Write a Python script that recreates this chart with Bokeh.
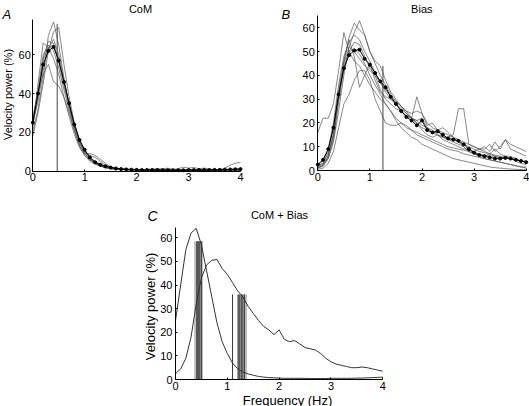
import numpy as np
from bokeh.plotting import figure
from bokeh.models import Range1d, Label, FixedTicker
from bokeh.layouts import column, row
from bokeh.embed import file_html
from bokeh.resources import INLINE

# ---------------- data ----------------
freq = np.round(np.arange(41) * 0.1, 1)  # Hz sampling grid
x_ticks = [0, 1, 2, 3, 4]
yticks_A = [0, 20, 40, 60]
yticks_BC = [0, 10, 20, 30, 40, 50, 60]

com_mean = [25, 40, 55, 62, 64, 57, 46, 35, 24, 16,
            11, 7, 4.5, 3.2, 2.4, 1.8, 1.3, 1.0, 0.8, 0.7,
            0.6, 0.5, 0.5, 0.5, 0.5, 0.5, 0.4, 0.4, 0.4, 0.4,
            0.5, 0.5, 0.5, 0.5, 0.5, 0.6, 0.6, 0.7, 0.8, 0.9, 1.0]
bias_mean = [2.5, 4.5, 9, 18, 32, 43, 48.5, 50.5, 50.8, 47,
             44.5, 41, 37.5, 35, 31, 28, 25, 22.5, 21, 19,
             21, 17, 16, 16.5, 15, 13.5, 13, 12.5, 11, 9,
             7.5, 6.5, 6, 5.5, 5, 5, 5.3, 5, 4.5, 4, 3.5]

com_1 = [20, 32, 48, 70, 77, 65, 48, 33, 22, 14, 9, 6, 4, 3, 2, 1.5, 1.2, 1, 0.8, 0.7,
         0.6, 0.5, 0.5, 0.4, 0.4, 0.4, 0.3, 0.3, 0.3, 0.3, 0.3, 0.3, 0.3, 0.3, 0.3, 0.3, 0.3, 0.3, 0.3, 0.3, 0.3]
com_2 = [18, 30, 45, 62, 72, 74, 55, 38, 25, 16, 10, 6.5, 4.5, 3, 2.2, 1.6, 1.2, 1, 0.8, 0.6,
         0.5, 0.5, 0.4, 0.4, 0.4, 0.4, 0.4, 0.4, 0.4, 0.4, 0.4, 0.4, 0.4, 0.4, 0.4, 0.5, 0.5, 0.5, 0.5, 0.5, 0.5]
com_3 = [22, 45, 66, 64, 58, 50, 38, 28, 19, 12, 8, 5, 3.5, 2.5, 1.8, 1.3, 1, 0.8, 0.6, 0.5,
         0.5, 0.4, 0.4, 0.4, 0.4, 0.3, 0.3, 0.3, 0.3, 0.3, 0.3, 0.3, 0.3, 0.3, 0.3, 0.3, 0.3, 0.3, 0.4, 0.4, 0.4]
com_4 = [28, 40, 50, 55, 46, 44, 38, 30, 21, 13, 8, 5.5, 4, 3, 2.2, 1.6, 1.2, 1, 0.8, 0.7,
         0.6, 0.6, 0.5, 0.5, 0.5, 0.5, 0.5, 0.5, 0.5, 0.5, 0.5, 0.5, 0.5, 0.5, 0.5, 0.5, 0.5, 0.5, 0.5, 0.5, 0.5]
com_5 = [24, 38, 58, 67, 66, 56, 44, 33, 23, 15, 10, 8, 7, 5, 3, 2, 1.5, 1.2, 1, 0.8,
         0.7, 0.6, 0.6, 0.5, 0.5, 0.5, 0.5, 0.5, 0.5, 0.5, 0.6, 0.6, 0.6, 0.6, 0.6, 0.7, 0.7, 0.7, 0.8, 0.8, 0.8]
com_6 = [26, 42, 60, 65, 62, 53, 42, 31, 21, 13, 9, 9, 8, 6, 4, 2, 1.5, 1.2, 1, 0.9,
         0.8, 0.7, 0.7, 0.6, 0.6, 0.6, 0.6, 0.6, 0.6, 0.6, 0.6, 0.6, 0.6, 0.6, 0.6, 0.6, 0.6, 0.6, 0.6, 0.6, 0.6]
com_7 = [25, 36, 52, 63, 68, 60, 47, 35, 24, 15, 9, 6, 4, 2.5, 1.5, 1, 0.8, 0.7, 0.6, 0.5,
         0.5, 0.5, 0.5, 0.5, 0.5, 0.5, 0.5, 0.5, 0.5, 0.5, 0.5, 0.5, 0.5, 0.5, 0.5, 0.5, 0.6, 1.5, 3, 4, 4.5]
com_8 = [27, 40, 57, 64, 65, 58, 46, 34, 24, 16, 10, 7, 5, 3.5, 2.5, 1.8, 1.3, 1, 0.8, 0.8,
         0.8, 0.8, 0.9, 1, 1.2, 1, 1.5, 0.8, 1.2, 2, 1.5, 1.8, 1.2, 1.5, 1, 0.8, 0.8, 0.8, 0.9, 1, 1.2]

bias_1 = [16, 22, 22, 28, 42, 58, 50, 46, 44, 40, 36, 33, 30, 28, 25, 22, 20, 18, 17, 16,
          15, 14, 13, 12, 11, 10, 9.5, 9, 8.5, 8, 7.5, 7, 6.5, 6, 6, 5.5, 5, 5, 4.5, 4, 4]
bias_2 = [1, 2, 5, 12, 25, 40, 52, 58, 63, 57, 50, 45, 40, 36, 32, 29, 27, 25, 24, 25,
          24, 20, 18, 17, 16, 15, 14, 13, 12, 11, 10, 9, 9, 11, 8, 10, 13, 9, 8, 7, 6]
bias_3 = [2, 3, 7, 15, 30, 46, 56, 62, 59, 57, 50, 46, 44, 38, 33, 30, 27, 25, 22, 20,
          18, 17, 16, 15, 14, 13.5, 13, 12, 11, 10, 9, 8, 7.5, 7, 6.5, 6, 5.5, 5, 4.5, 4, 3.5]
bias_4 = [0.5, 1, 3, 8, 18, 28, 32, 38, 42, 42, 38, 30, 25, 20, 19, 19, 20, 19, 17, 15,
          14, 13, 12, 11, 10, 9, 8.5, 8, 7, 6.5, 6, 5.5, 5, 4.5, 4, 3.5, 3, 2.5, 2, 1.5, 1]
bias_5 = [2, 3, 8, 18, 34, 46, 55, 48, 35, 40, 45, 38, 33, 31, 30, 28, 25, 23, 22, 31,
          24, 19, 20, 17, 18, 16, 14, 12, 10, 8, 7, 6, 5, 4.5, 4, 3.5, 3, 2.5, 2, 1.5, 1.5]
bias_6 = [1, 2, 6, 16, 32, 44, 50, 54, 53, 48, 43, 40, 37, 33, 30, 28, 26, 24, 22, 21,
          19, 18, 17, 15, 14, 14, 15, 26, 26, 11, 10, 9, 8, 7, 9, 7, 6, 6, 5, 4, 3.5]
bias_7 = [1.5, 2.5, 6, 14, 30, 45, 52, 50, 47, 44, 42, 40, 34, 30, 28, 26, 25, 23, 22, 20,
          17, 15, 14, 15, 13, 12, 11, 10, 9, 9, 8, 9, 10, 8, 12, 9, 13, 11, 10, 9, 8]
bias_8 = [1, 2, 5, 13, 29, 42, 50, 51, 49, 45, 40, 36, 32, 28, 25, 21, 18, 16, 14, 13,
          11, 10, 9, 8, 7, 6, 5, 4.5, 4, 3.5, 3, 2.5, 2, 1.5, 1.2, 1, 0.8, 0.6, 0.5, 0.4, 0.3]
bias_9 = [2.5, 4, 9, 20, 36, 48, 54, 57, 55, 50, 46, 41, 37, 34, 31, 29, 27, 24, 22, 21,
          22, 18, 16, 17, 14, 13, 12, 11, 10, 8, 7, 6.5, 6, 7, 6, 5, 6, 5, 4, 3, 2.5]

com_lines = [com_1, com_2, com_3, com_4, com_5, com_6, com_7, com_8]
bias_lines = [bias_1, bias_2, bias_3, bias_4, bias_5, bias_6, bias_7, bias_8, bias_9]

# mean-frequency markers
com_mean_freq = 0.47
com_mean_freq_top = 76
bias_mean_freq = 1.25
bias_mean_freq_top = 44

com_freqs = [0.41, 0.43, 0.45, 0.47, 0.50]
com_band = [0.36, 0.53]
com_freq_height = 58.5
bias_freqs = [1.10, 1.21, 1.24, 1.27, 1.30, 1.33]
bias_band = [1.19, 1.38]
bias_freq_height = 36

FONT = "Liberation Sans"
IND_COLOR = "#555555"


def make_panel(cl, ct, w, h, px0, px4, py0, ytop, sy, yticks, ylab_standoff):
    """Figure whose frame fills the canvas; axes drawn at x=0 / y=0."""
    sx = (px4 - px0) / 4.0
    xr = Range1d((cl - px0) / sx, (cl + w - px0) / sx)
    yr = Range1d((py0 - (ct + h)) / sy, (py0 - ct) / sy)
    p = figure(width=w, height=h, x_range=xr, y_range=yr, title=None,
               output_backend="svg", toolbar_location=None,
               min_border_left=0, min_border_right=0, min_border_top=0, min_border_bottom=0)
    p.outline_line_color = None
    p.xgrid.visible = False
    p.ygrid.visible = False
    p.background_fill_color = "white"
    p.border_fill_color = "white"
    p.xaxis.ticker = FixedTicker(ticks=x_ticks)
    p.yaxis.ticker = FixedTicker(ticks=yticks)
    p.xaxis.fixed_location = 0
    p.yaxis.fixed_location = 0
    p.xaxis.bounds = (0, 4)
    p.yaxis.bounds = (0, ytop)
    for ax in (p.xaxis[0], p.yaxis[0]):
        ax.axis_line_color = "black"
        ax.axis_line_width = 1
        ax.major_tick_in = 2
        ax.major_tick_out = 0
        ax.major_tick_line_color = "black"
        ax.minor_tick_line_color = None
        ax.major_label_text_font = FONT
        ax.major_label_text_font_size = "11px"
        ax.major_label_text_color = "black"
    p.xaxis.major_label_standoff = 2
    p.yaxis.major_label_standoff = ylab_standoff

    def to_data(px, py):
        return (px - px0) / sx, (py0 - py) / sy

    return p, to_data


def add_text(p, to_data, px, py, text, size="11px", style_="normal", align="center",
             baseline="alphabetic", angle=0.0):
    x, y = to_data(px, py)
    p.add_layout(Label(x=x, y=y, text=text, text_font=FONT, text_font_size=size,
                       text_font_style=style_, text_align=align,
                       text_baseline=baseline, angle=angle, text_color="black"))


# ---------------- Panel A ----------------
pA, dA = make_panel(0, 0, 273, 188, 32.3, 240.0, 170.5, 78, 1.937, yticks_A, 2)
for ys in com_lines:
    pA.line(freq, ys, line_color=IND_COLOR, line_width=0.7)
pA.segment(x0=[com_mean_freq], y0=[0], x1=[com_mean_freq], y1=[com_mean_freq_top],
           line_color="#444444", line_width=1)
pA.line(freq, com_mean, line_color="black", line_width=1.0)
pA.scatter(freq, com_mean, marker="circle", size=3, color="black")
add_text(pA, dA, 2, 13.5, "A", size="13px", style_="italic", align="left")
add_text(pA, dA, 140, 8.3, "CoM")
add_text(pA, dA, 7.5, 94, "Velocity power (%)", align="center", angle=np.pi / 2)

# ---------------- Panel B ----------------
pB, dB = make_panel(273, 0, 256, 188, 317.3, 525.7, 170.0, 65, 2.378, yticks_BC, 3)
for ys in bias_lines:
    pB.line(freq, ys, line_color=IND_COLOR, line_width=0.7)
pB.segment(x0=[bias_mean_freq], y0=[0], x1=[bias_mean_freq], y1=[bias_mean_freq_top],
           line_color="#444444", line_width=1)
pB.line(freq, bias_mean, line_color="black", line_width=1.0)
pB.scatter(freq, bias_mean, marker="circle", size=3, color="black")
add_text(pB, dB, 281, 13.5, "B", size="13px", style_="italic", align="left")
add_text(pB, dB, 421.3, 8.3, "Bias")

# ---------------- Panel C ----------------
pC, dC = make_panel(0, 188, 529, 218, 175.0, 382.3, 379.0, 64.5, 2.362, yticks_BC, 3)
pC.quad(left=[com_band[0], bias_band[0]], right=[com_band[1], bias_band[1]],
        bottom=[0, 0], top=[com_freq_height, bias_freq_height],
        fill_color="#bdbdbd", line_color=None)
pC.segment(x0=com_freqs, y0=[0] * len(com_freqs), x1=com_freqs,
           y1=[com_freq_height] * len(com_freqs), line_color="#3a3a3a", line_width=1)
pC.segment(x0=bias_freqs, y0=[0] * len(bias_freqs), x1=bias_freqs,
           y1=[bias_freq_height] * len(bias_freqs), line_color="#3a3a3a", line_width=1)
pC.line(freq, com_mean, line_color="#333333", line_width=1)
pC.line(freq, bias_mean, line_color="#333333", line_width=1)
add_text(pC, dC, 147, 215, "C", size="14px", style_="italic", align="left")
add_text(pC, dC, 279, 214, "CoM + Bias")
add_text(pC, dC, 150, 306, "Velocity power (%)", size="13px", align="center",
         angle=np.pi / 2)
add_text(pC, dC, 287, 399.5, "Frequency (Hz)", size="13px")

layout = column(row(pA, pB), pC)
open("out.html", "w").write(file_html(layout, INLINE))
